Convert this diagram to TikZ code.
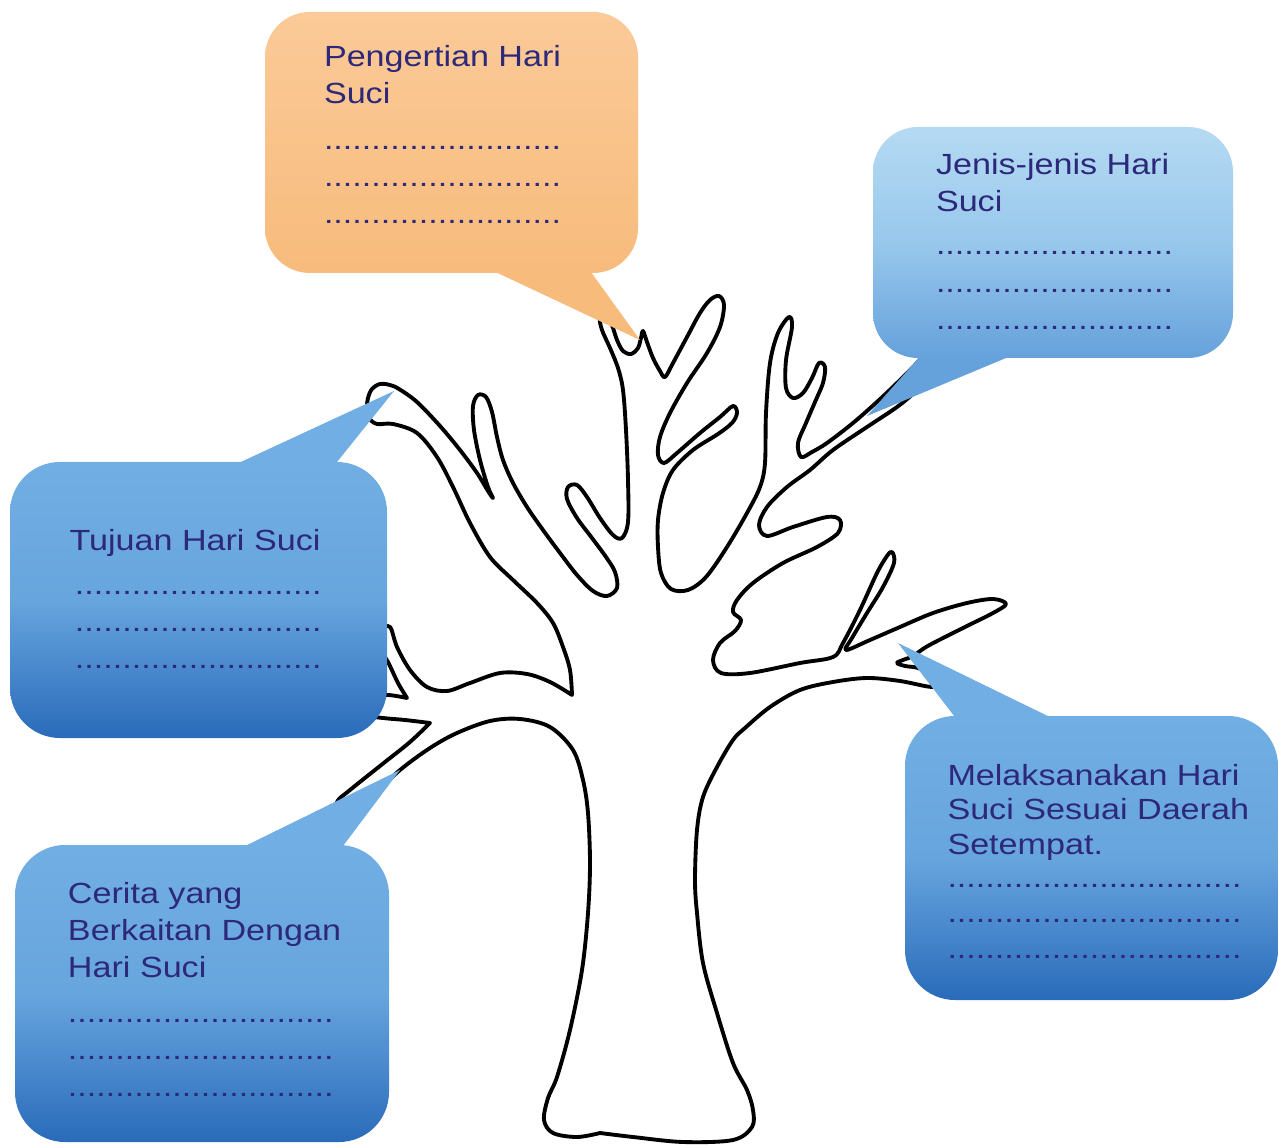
\documentclass[tikz,border=0pt]{standalone}
\usepackage{fontspec}
\newfontfamily\lblfont[FakeStretch=1.17]{Liberation Sans}
\definecolor{ink}{RGB}{45,40,122}
\definecolor{bluetop}{RGB}{113,174,227}
\definecolor{bluemid}{RGB}{103,165,222}
\definecolor{bluebot}{RGB}{42,107,186}
\definecolor{paletop}{RGB}{181,218,243}
\definecolor{palemid}{RGB}{152,200,236}
\definecolor{palebot}{RGB}{101,161,219}
\definecolor{peachtop}{RGB}{251,202,152}
\definecolor{peachbot}{RGB}{247,187,124}
\ExplSyntaxOn
\cs_new:Npn \dotsline #1 { \prg_replicate:nn {#1} {.} }
\ExplSyntaxOff
% a block of left-aligned lines whose baseline is that of the first line
\newcommand\textblock[1]{\begin{tabular}[t]{@{}l@{}}#1\end{tabular}}

\begin{document}
\begin{tikzpicture}[x=0.02cm,y=-0.02cm,
  outline/.style={draw=black,line width=2.2pt,line join=round,line cap=round},
  bluebody/.style={top color=bluetop,bottom color=bluebot,middle color=bluemid,rounded corners=1cm},
  palebody/.style={top color=paletop,bottom color=palebot,middle color=palemid,rounded corners=0.9cm},
  peachbody/.style={top color=peachtop,bottom color=peachbot,rounded corners=0.9cm},
  lbl/.style={anchor=base west,inner sep=0pt,outer sep=0pt,text=ink,
    font=\lblfont\fontsize{16.6}{21}\selectfont}]

\fill[white] (0,0) rectangle (1279,1145);
\useasboundingbox (0,0) rectangle (1279,1145);

% ---------- the tree outline ----------
\draw[outline]
  plot[smooth,tension=0.55] coordinates {(600,1133) (577,1137) (553,1133) (544,1120) (548,1098)
    (557,1077) (570,1030) (582,970) (588,913) (590,863) (588,813) (583,780) (573,750) (550,727)
    (520,719) (490,721) (457,733) (430,748) (400,770) (380,790) (365,808) (352,820) (340,815)
    (337,802) (350,790) (385,762) (410,742) (430,723)}
  -- plot[smooth,tension=0.55] coordinates {(430,723) (405,720) (383,718) (366,715) (362,705)
    (370,697) (388,695) (407,698)}
  -- plot[smooth,tension=0.55] coordinates {(407,698) (398,683) (388,662) (378,645) (381,630)
    (390,627) (397,647) (410,670) (427,687) (447,691) (470,683) (500,673) (527,674) (550,682)
    (572,695)}
  -- plot[smooth,tension=0.55] coordinates {(572,695) (570,670) (563,647) (553,623) (537,603)
    (513,580) (490,557) (470,523) (453,487) (437,457) (417,433) (393,424) (377,424) (369,418)
    (367,408) (368,398) (372,389) (380,384) (390,385) (399,389) (417,402) (440,426) (460,450)
    (477,473) (488,491) (493,498) (488,487) (480,460) (474,430) (473,406) (478,395) (486,397)
    (492,412) (497,437) (503,460) (513,483) (527,507) (543,530) (560,553) (577,575) (593,591)
    (607,596) (617,588) (615,572) (606,557) (592,538) (577,518) (567,499) (568,487) (577,485)
    (587,497) (600,518) (613,535) (622,538) (628,522) (628,480) (626,430) (623,390) (618,368)
    (610,348) (602,330) (600,318) (607,315) (612,325) (617,340) (623,351) (631,354) (638,348)
    (641,338) (643,331) (647,342) (653,358) (660,371) (665,377) (673,363) (687,337) (700,313)
    (710,300) (719,296) (724,305) (720,327) (707,353) (687,383) (670,413) (660,437) (658,455)
    (664,463) (677,453) (700,433) (720,417) (733,406) (737,413) (732,423) (718,434) (693,450)
    (673,470) (663,493) (658,520) (658,547) (661,573) (671,589) (688,590) (706,577) (727,547)
    (747,513) (760,487) (765,463) (766,413) (770,363) (778,333) (789,317) (792,327) (786,360)
    (786,388) (793,398) (803,393) (812,378) (819,363) (825,367) (823,383) (815,402) (806,423)
    (798,443) (801,457) (812,452) (827,443) (853,423) (878,401) (898,382) (915,365) (927,352)
    (940,346) (945,355) (935,372) (915,392) (897,407) (867,427) (833,450) (810,470) (787,487)
    (767,507) (759,525) (767,536) (793,527) (827,517) (840,520) (838,533) (817,547) (783,563)
    (753,583) (737,600) (733,612) (741,620) (735,631) (720,643) (713,660) (721,673) (750,673)
    (800,663) (833,657) (843,643) (860,610) (877,573) (887,556) (892,552) (894,563) (883,587)
    (867,613) (852,638) (846,650) (870,640) (900,627) (933,613) (967,603) (993,599) (1006,604)
    (993,613) (967,626) (945,637) (926,647) (913,656) (903,660) (897,663) (905,666) (918,668)
    (937,676) (946,683) (932,687) (900,681) (867,678) (833,682) (800,690) (770,707) (745,728)
    (733,740) (717,767) (703,797) (697,830) (695,880) (697,913) (703,963) (717,1013) (733,1063)
    (747,1090) (753,1110) (752,1127) (733,1140) (683,1142) (633,1137) (600,1133)}
  -- cycle;

% ---------- speech bubbles: tails ----------
\fill[peachbot] (487,268) -- (588,268) -- (640,340) -- cycle;
\fill[palebot]  (923,353) -- (1018,353) -- (867,416) -- cycle;
\fill[bluetop]  (230,467) -- (333,467) -- (394,391) -- cycle;
\fill[bluetop]  (237,850) -- (340,850) -- (400,770) -- cycle;
\fill[bluetop]  (958,721) -- (1058,721) -- (898,643) -- cycle;

% ---------- speech bubbles: bodies ----------
\shade[peachbody] (265,12) rectangle (638,273);
\shade[palebody]  (873,127) rectangle (1233,358);
\shade[bluebody]  (10,462) rectangle (387,738);
\shade[bluebody]  (15,845) rectangle (389,1142);
\shade[bluebody]  (905,716) rectangle (1278,1000);

% ---------- texts ----------
\node[lbl] (pengertian) at (324,67) {\textblock{%
  Pengertian Hari\\ Suci\\[5.1pt]
  \dotsline{25}\\ \dotsline{25}\\ \dotsline{25}}};

\node[lbl] (jenis) at (936,175) {\textblock{%
  Jenis-jenis Hari\\ Suci\\[3.4pt]
  \dotsline{25}\\[0.3pt] \dotsline{25}\\[0.3pt] \dotsline{25}}};

\node[lbl] (tujuan) at (69.5,551) {\textblock{%
  Tujuan Hari Suci\\[4pt]
  \hspace*{3.1pt}\dotsline{26}\\ \hspace*{3.1pt}\dotsline{26}\\ \hspace*{3.1pt}\dotsline{26}}};

\node[lbl] (cerita) at (68,903.5) {\textblock{%
  Cerita yang\\ Berkaitan Dengan\\ Hari Suci\\[4.8pt]
  \dotsline{28}\\ \dotsline{28}\\ \dotsline{28}}};

\node[lbl] (melaksanakan) at (947.5,785) {\textblock{%
  Melaksanakan Hari\\[-1.13pt] Suci Sesuai Daerah\\[-1.13pt] Setempat.\\[-2.3pt]
  \dotsline{31}\\[-1.1pt] \dotsline{31}\\[-0.6pt] \dotsline{31}}};

\end{tikzpicture}
\end{document}
